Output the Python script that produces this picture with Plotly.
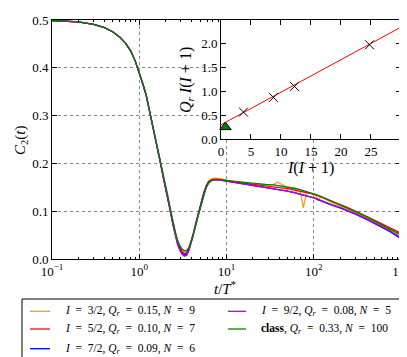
import plotly.graph_objects as go

# time axis t/T* (log scale)
t = [0.1, 0.2, 0.3, 0.4, 0.5, 0.6, 0.7, 0.8, 0.9, 1.0, 1.1, 1.2, 1.34, 1.5, 1.74, 1.9, 2.09,
     2.28, 2.45, 2.6, 2.75, 2.92, 3.1, 3.3, 3.5, 3.7, 3.9, 4.14, 4.45, 4.81, 5.15, 5.49, 5.85,
     6.26, 6.83, 7.5, 8.5, 10,
     14, 20, 28, 35, 38, 42, 50, 60, 70, 76, 82, 90, 100, 106, 113, 120, 150, 200, 250, 300,
     420, 550, 750, 1000]

# C2(t), one list per spin
c2_i32 = [0.499, 0.496, 0.491, 0.484, 0.475, 0.464, 0.451, 0.435, 0.414, 0.390, 0.366, 0.343, 0.303, 0.262, 0.203, 0.168, 0.137,
          0.100, 0.073, 0.052, 0.037, 0.025, 0.018, 0.014, 0.016, 0.024, 0.036, 0.052, 0.076, 0.101, 0.122, 0.140, 0.154,
          0.164, 0.168, 0.169, 0.168, 0.165,
          0.161, 0.157, 0.155, 0.156, 0.161, 0.157, 0.150, 0.146, 0.142, 0.107, 0.138, 0.138, 0.135, 0.133, 0.122, 0.131,
          0.121, 0.112, 0.104, 0.098, 0.085, 0.074, 0.062, 0.052]
c2_i52 = [0.499, 0.496, 0.491, 0.484, 0.475, 0.464, 0.451, 0.435, 0.414, 0.390, 0.366, 0.343, 0.303, 0.262, 0.203, 0.168, 0.136,
          0.100, 0.072, 0.051, 0.035, 0.023, 0.015, 0.011, 0.013, 0.022, 0.034, 0.051, 0.075, 0.100, 0.121, 0.138, 0.152,
          0.162, 0.166, 0.167, 0.166, 0.164,
          0.160, 0.156, 0.153, 0.151, 0.150, 0.149, 0.147, 0.144, 0.142, 0.140, 0.139, 0.138, 0.136, 0.134, 0.132, 0.131,
          0.123, 0.114, 0.107, 0.100, 0.088, 0.077, 0.065, 0.054]
c2_i72 = [0.499, 0.496, 0.491, 0.484, 0.475, 0.464, 0.451, 0.435, 0.414, 0.390, 0.366, 0.343, 0.303, 0.262, 0.203, 0.168, 0.135,
          0.099, 0.070, 0.049, 0.032, 0.020, 0.012, 0.008, 0.010, 0.019, 0.032, 0.049, 0.073, 0.098, 0.119, 0.137, 0.151,
          0.161, 0.165, 0.166, 0.165, 0.163,
          0.159, 0.154, 0.150, 0.147, 0.146, 0.145, 0.142, 0.139, 0.135, 0.133, 0.132, 0.130, 0.128, 0.126, 0.124, 0.122,
          0.115, 0.107, 0.100, 0.094, 0.081, 0.070, 0.057, 0.0425]
c2_i92 = [0.499, 0.496, 0.491, 0.484, 0.475, 0.464, 0.451, 0.435, 0.414, 0.390, 0.366, 0.343, 0.303, 0.262, 0.203, 0.168, 0.134,
          0.098, 0.069, 0.048, 0.031, 0.018, 0.010, 0.006, 0.008, 0.017, 0.030, 0.048, 0.072, 0.097, 0.118, 0.136, 0.150,
          0.160, 0.165, 0.166, 0.165, 0.163,
          0.159, 0.154, 0.150, 0.147, 0.146, 0.145, 0.142, 0.139, 0.136, 0.134, 0.133, 0.131, 0.129, 0.127, 0.125, 0.123,
          0.116, 0.108, 0.101, 0.095, 0.083, 0.072, 0.059, 0.045]
c2_class = [0.499, 0.496, 0.491, 0.484, 0.475, 0.464, 0.451, 0.435, 0.414, 0.390, 0.366, 0.343, 0.303, 0.264, 0.206, 0.171, 0.139,
            0.104, 0.076, 0.055, 0.039, 0.028, 0.021, 0.017, 0.018, 0.024, 0.034, 0.049, 0.071, 0.095, 0.116, 0.134, 0.149,
            0.159, 0.165, 0.166, 0.166, 0.164,
            0.161, 0.158, 0.156, 0.155, 0.154, 0.153, 0.151, 0.148, 0.145, 0.143, 0.142, 0.140, 0.137, 0.135, 0.133, 0.131,
            0.123, 0.114, 0.106, 0.099, 0.087, 0.075, 0.062, 0.050]

EQ = "\u2002=\u2002"
labels = [f"<i>I</i>{EQ}3/2, <i>Q<sub>r</sub></i>{EQ}0.15, <i>N</i>{EQ}9",
          f"<i>I</i>{EQ}5/2, <i>Q<sub>r</sub></i>{EQ}0.10, <i>N</i>{EQ}7",
          f"<i>I</i>{EQ}7/2, <i>Q<sub>r</sub></i>{EQ}0.09, <i>N</i>{EQ}6",
          f"<i>I</i>{EQ}9/2, <i>Q<sub>r</sub></i>{EQ}0.08, <i>N</i>{EQ}5",
          f"<b>class</b>, <i>Q<sub>r</sub></i>{EQ}0.33, <i>N</i>{EQ}100"]
colors = ["#f0a020", "#ff0000", "#0000ff", "#bf00bf", "#008000"]

# inset: Q_r I(I+1) vs I(I+1)
inset_x = [3.75, 8.75, 12.25, 24.75]
inset_y = [0.566, 0.874, 1.105, 1.98]
class_x = [0.75]
class_y = [0.25]
fit_x = [0, 30]
fit_y = [0.30, 2.35]

FONT = "Liberation Serif"

fig = go.Figure()
for vals, lab, col in zip([c2_i32, c2_i52, c2_i72, c2_i92, c2_class], labels, colors):
    fig.add_trace(go.Scatter(x=t, y=vals, mode="lines", name=lab, showlegend=False,
                             line=dict(color=col, width=1.3), xaxis="x", yaxis="y"))

fig.add_trace(go.Scatter(x=fit_x, y=fit_y, mode="lines", line=dict(color="red", width=1),
                         xaxis="x2", yaxis="y2", showlegend=False))
fig.add_trace(go.Scatter(x=inset_x, y=inset_y, mode="markers",
                         marker=dict(symbol="x-thin", size=9, line=dict(color="black", width=1)),
                         xaxis="x2", yaxis="y2", showlegend=False))
fig.add_trace(go.Scatter(x=class_x, y=class_y, mode="markers",
                         marker=dict(symbol="triangle-up", size=10, color="green",
                                     line=dict(color="black", width=1)),
                         xaxis="x2", yaxis="y2", showlegend=False, cliponaxis=False))

axis_common = dict(showline=True, linecolor="black", linewidth=1, mirror="allticks",
                   ticks="inside", tickcolor="black", ticklen=5, zeroline=False, automargin=False,
                   tickfont=dict(family=FONT, size=13, color="black"))

minor_vals = [m * 10 ** e for e in range(-1, 3) for m in range(2, 10)]

# white background for the inset so the main grid does not show through
shapes = [dict(type="rect", xref="x2 domain", yref="y2 domain", x0=0, x1=1, y0=0, y1=1,
               fillcolor="white", line=dict(width=0), layer="below")]

# hand-made legend box (two columns, column-major like the original)
shapes.append(dict(type="rect", xref="paper", yref="paper", x0=-0.086, x1=0.997, y0=-0.4226, y1=-0.1674,
                   line=dict(color="black", width=1), fillcolor="white"))
row_y = [-0.2188, -0.2929, -0.3753]
slots = [(0, 0), (0, 1), (0, 2), (1, 0), (1, 1)]
col_line = [(-0.063, -0.0057), (0.504, 0.556)]
col_text = [0.0315, 0.593]
annotations = []
for (c, r), lab, col in zip(slots, labels, colors):
    shapes.append(dict(type="line", xref="paper", yref="paper", x0=col_line[c][0], x1=col_line[c][1],
                       y0=row_y[r], y1=row_y[r], line=dict(color=col, width=1.3)))
    annotations.append(dict(text=lab, x=col_text[c], y=row_y[r], xref="paper", yref="paper",
                            xanchor="left", yanchor="middle", showarrow=False,
                            font=dict(family=FONT, size=11.5)))

annotations += [
    dict(text="<i>t</i>/<i>T</i><sup>*</sup>", x=0.4957, y=-0.121, xref="paper", yref="paper",
         xanchor="center", yanchor="middle", showarrow=False, font=dict(size=15)),
    dict(text="<i>C</i><sub>2</sub>(<i>t</i>)", x=-0.0888, y=0.494, xref="paper", yref="paper",
         xanchor="center", yanchor="middle", showarrow=False, textangle=-90, font=dict(size=15)),
    dict(text="<i>Q<sub>r</sub></i> <i>I</i>(<i>I</i> + 1)", x=0.387, y=0.749, xref="paper", yref="paper",
         xanchor="center", yanchor="middle", showarrow=False, textangle=-90, font=dict(size=16)),
    dict(text="<i>I</i>(<i>I</i> + 1)", x=0.742, y=0.381, xref="paper", yref="paper",
         xanchor="center", yanchor="middle", showarrow=False, font=dict(size=16)),
]

fig.update_layout(
    width=407, height=357,
    margin=dict(l=44, r=14, t=12, b=106),
    paper_bgcolor="white", plot_bgcolor="white",
    font=dict(family=FONT, color="black"),
    showlegend=False,
    xaxis=dict(type="log", range=[-1, 3], domain=[0, 1],
               tickvals=[0.1, 1, 10, 100, 1000],
               ticktext=["10<sup>−1</sup>", "10<sup>0</sup>", "10<sup>1</sup>", "10<sup>2</sup>", "10<sup>3</sup>"],
               showgrid=True, gridcolor="#888888", griddash="dot", gridwidth=1,
               minor=dict(tickvals=minor_vals, ticks="inside", ticklen=2, tickcolor="black", showgrid=False),
               **axis_common),
    yaxis=dict(range=[0, 0.5], domain=[0, 1], tickvals=[0, 0.1, 0.2, 0.3, 0.4, 0.5], tickformat=".1f",
               showgrid=True, gridcolor="#888888", griddash="dot", gridwidth=1, **axis_common),
    xaxis2=dict(range=[0, 30], domain=[0.4842, 1], anchor="y2", tickvals=[0, 5, 10, 15, 20, 25],
                showgrid=False, **axis_common),
    yaxis2=dict(range=[0, 2.5], domain=[0.502, 1], anchor="x2", tickvals=[0, 0.5, 1, 1.5, 2],
                tickformat=".1f", showgrid=False, **axis_common),
    shapes=shapes,
    annotations=annotations,
)

fig.write_html("out.html")
